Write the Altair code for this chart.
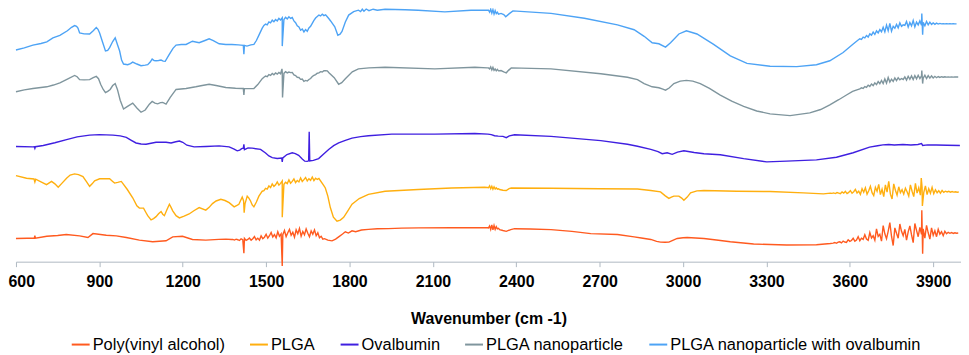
import altair as alt
import pandas as pd

SERIES = ["Poly(vinyl alcohol)", "PLGA", "Ovalbumin", "PLGA nanoparticle",
          "PLGA nanoparticle with ovalbumin"]
COLORS = ["#FF5A1F", "#FFAF0F", "#3F1FE0", "#7F959D", "#4DA3F5"]
TICKS = [600, 900, 1200, 1500, 1800, 2100, 2400, 2700, 3000, 3300, 3600, 3900]
STEP = 6
STEP_SMALL = 4

# ---------------- Poly(vinyl alcohol) ----------------
PVA_WN = [600, 640, 666, 668, 670, 711, 750, 781, 829, 859, 877, 925, 961, 997, 1044, 1092,
          1140, 1164, 1199, 1235, 1283, 1330, 1355, 1375,
          1722, 1737, 1750, 1761, 1775, 1785, 1796, 1809, 1822, 1843, 1868, 1900, 1940,
          1988, 2050, 2167, 2286, 2296,
          2340, 2352, 2364, 2380, 2394, 2450, 2525, 2600, 2668, 2764, 2824, 2850, 2884,
          2905, 2919, 2935, 2949, 2965, 2979, 3000, 3015, 3075, 3120, 3170, 3254, 3373,
          3480, 3530]
PVA_VAL = [23.7, 23.9, 24.0, 26.5, 24.0, 26.0, 26.8, 27.7, 26.3, 24.7, 28.7, 27.0, 26.3, 24.7, 22.0,
           20.3, 21.3, 25.3, 26.0, 22.7, 22.0, 22.8, 23.0, 22.6,
           22.0, 21.3, 23.0, 25.3, 28.2, 30.5, 29.2, 31.5, 30.6, 32.4, 33.0, 33.6, 33.8,
           34.3, 34.5, 34.7, 34.7, 34.6,
           32.7, 31.8, 31.0, 32.8, 33.7, 33.4, 32.7, 31.0, 28.7, 27.7, 25.3, 24.2, 22.7,
           20.8, 20.0, 19.8, 20.0, 22.0, 23.7, 24.5, 24.7, 23.7, 22.2, 20.3, 18.0, 17.0,
           17.3, 18.5]
PVA_NOISE1_START = 1380
PVA_NOISE1 = [22.8, 22.1, 23.0, 22.4, 21.6, 23.3, 22.5, 23.9, 21.8, 22.7,
              24.2, 22.0, 23.4, 25.6, 22.3, 24.0, 21.9, 26.3, 23.5, 25.0,
              28.0, 24.0, 26.5, 29.8, 25.2, 27.6, 24.4, 30.6, 26.0, 28.4,
              27.5, 31.8, 25.6, 29.5, 33.0, 27.0, 30.0, 25.0, 32.5, 28.5,
              34.0, 26.0, 30.8, 27.5, 33.5, 29.0, 25.5, 31.5, 28.0, 32.5,
              26.5, 29.5, 24.5, 26.0, 23.0, 23.5]
PVA_NOISE2_START = 2300
PVA_NOISE2 = [34.5, 36.5, 33.0, 37.5, 32.5, 37.0, 33.0, 35.8, 33.5, 34.0]
PVA_NOISE3_START = 3540
PVA_NOISE3 = [19.0, 19.6, 18.8, 19.9, 20.3, 19.2, 21.0, 20.1, 19.7, 22.4,
              20.8, 21.6, 23.9, 20.9, 22.2, 25.6, 21.4, 24.0, 22.8, 27.5,
              23.1, 21.9, 29.8, 24.2, 26.5, 22.0, 33.5, 25.8, 28.0, 21.0,
              36.8, 28.5, 23.5, 31.0, 40.0, 26.0, 16.5, 34.5, 29.0, 24.0,
              38.5, 31.0, 26.5, 33.0, 22.0, 30.5, 36.5, 27.5, 19.5, 39.0,
              32.0, 25.5, 35.0, 28.0, 33.5, 24.0, 37.0, 29.5, 23.0, 34.5,
              27.0, 31.5, 25.5, 33.0, 28.0, 30.5, 26.5, 31.0, 28.5, 30.0,
              29.0, 29.8, 28.9, 29.5, 29.1, 29.3]
PVA_SPIKE_WN = [1420, 1558, 3859, 3862]
PVA_SPIKE_VAL = [8.7, -4.5, 52.5, 8.0]

# ---------------- PLGA ----------------
PLGA_WN = [600, 638, 665, 668, 671, 690, 710, 728, 740, 752, 765, 782, 795, 811, 825, 841,
           853, 865, 874, 883, 901, 937, 948, 955, 966, 979, 1000, 1020, 1035, 1044, 1059,
           1068, 1074, 1086, 1095, 1104, 1113, 1122, 1128, 1134, 1143, 1152, 1158, 1164,
           1176, 1188, 1205, 1223, 1240, 1259, 1283, 1295, 1307, 1320, 1337, 1352, 1367,
           1385, 1395, 1402, 1409, 1414, 1419, 1421, 1424, 1432, 1438, 1444, 1450, 1456,
           1465, 1474, 1486,
           1707, 1713, 1722, 1731, 1742, 1755, 1767, 1779, 1794, 1809, 1835, 1868, 1928,
           2047, 2167, 2286, 2296,
           2340, 2352, 2364, 2374, 2382, 2525, 2700, 2836, 2884, 2919, 2935, 2949, 2958,
           2967, 2985, 2995, 3003, 3015, 3027, 3050, 3075, 3194, 3313, 3433, 3505, 3530]
PLGA_VAL = [88.0, 85.3, 84.5, 81.5, 84.3, 81.5, 78.7, 82.0, 79.5, 76.0, 80.0, 85.3, 88.5,
            89.7, 89.0, 87.0, 82.0, 77.0, 79.5, 82.7, 84.7, 84.7, 82.0, 80.3, 81.0, 82.0,
            74.0, 65.3, 57.0, 54.7, 54.7, 50.0, 47.0, 42.7, 44.0, 46.0, 49.0, 51.3, 48.5,
            47.0, 53.0, 58.7, 55.5, 52.0, 47.0, 44.7, 46.5, 48.7, 52.0, 55.3, 52.7, 55.5,
            59.3, 62.0, 63.7, 62.5, 60.3, 56.0, 57.5, 58.7, 63.0, 66.0, 62.0, 50.0, 59.0,
            67.0, 65.0, 62.0, 58.0, 56.0, 61.0, 67.0, 72.0,
            78.0, 75.3, 67.0, 55.3, 45.5, 41.3, 42.5, 45.3, 52.0, 58.7, 64.5, 68.7, 72.0,
            73.7, 75.3, 76.0, 75.8,
            73.7, 73.0, 72.7, 74.6, 75.3, 75.0, 74.5, 74.3, 72.7, 71.3, 67.5, 64.7, 66.0,
            67.0, 67.0, 65.0, 62.7, 66.0, 70.3, 72.3, 72.7, 72.0, 71.7, 70.3, 69.3, 70.0]
PLGA_NOISE1_START = 1492
PLGA_NOISE1 = [72.5, 75.0, 74.2, 77.5, 75.8, 79.5, 77.0, 78.6, 81.5, 78.2, 80.0,
               82.5, 79.0, 81.2, 79.8, 83.5, 80.2, 82.0, 84.5, 80.8, 83.0, 81.5,
               85.5, 82.0, 83.8, 86.0, 82.5, 84.8, 83.2, 86.5, 82.8, 85.2, 84.0, 85.0]
PLGA_NOISE2_START = 2300
PLGA_NOISE2 = [75.5, 77.5, 74.5, 77.0, 74.0, 76.5, 74.2, 75.5, 74.0, 74.5]
PLGA_NOISE3_START = 3536
PLGA_NOISE3 = [69.8, 70.3, 69.6, 70.6, 70.1, 69.4, 71.2, 70.0, 71.8, 69.6,
               70.8, 72.6, 69.9, 71.5, 73.8, 70.2, 72.0, 68.8, 74.5, 71.0,
               75.5, 69.0, 72.5, 77.0, 70.5, 67.5, 76.0, 72.0, 79.0, 68.5,
               74.0, 66.5, 78.5, 71.0, 82.0, 69.0, 64.0, 79.5, 73.0, 68.0,
               76.5, 70.5, 73.5, 69.0, 75.0, 71.5, 67.0, 78.5, 72.0, 66.5,
               80.0, 70.0, 75.5, 68.0, 76.0, 70.5, 77.5, 68.5, 74.5, 70.0,
               76.0, 69.5, 73.5, 70.5, 72.5, 70.0, 72.8, 70.8, 72.0, 71.2,
               71.9, 71.0, 71.6, 71.1, 71.4, 71.0, 71.2]
PLGA_SPIKE_WN = [1558, 3857, 3861]
PLGA_SPIKE_VAL = [45.3, 85.5, 57.0]

# ---------------- Ovalbumin ----------------
OVA_WN = [600, 661, 666, 668, 670, 698, 740, 782, 820, 865, 900, 949, 975, 997, 1015, 1032,
          1050, 1068, 1086, 1104, 1140, 1158, 1175, 1188, 1200, 1215, 1241, 1283, 1331,
          1367, 1385, 1396, 1405, 1412, 1418, 1420, 1422, 1435, 1450, 1480, 1498, 1510,
          1522, 1540, 1556, 1558, 1560, 1575, 1594, 1605, 1617, 1630, 1639, 1648, 1653,
          1655, 1657, 1670, 1689, 1707, 1725, 1743, 1761, 1785, 1809, 1840, 1868, 1952,
          2107, 2251, 2298, 2310, 2322, 2335, 2352, 2364, 2375, 2394, 2525, 2704, 2800,
          2836, 2884, 2910, 2925, 2943, 2961, 2980, 3003, 3040, 3075, 3134, 3218, 3301,
          3373, 3480, 3552, 3612, 3671, 3700, 3719, 3740, 3760, 3791, 3820, 3845, 3858,
          3862, 3880, 3911, 3950, 3996]
OVA_VAL = [117.7, 117.3, 117.5, 115.8, 117.5, 118.7, 121.5, 124.7, 127.5, 129.3, 129.8,
           129.3, 128.5, 127.0, 124.0, 121.3, 120.2, 120.0, 121.0, 122.0, 122.0, 121.3,
           122.5, 123.3, 122.0, 119.0, 117.3, 117.7, 118.3, 117.3, 115.0, 113.3, 114.0,
           115.5, 116.0, 120.0, 114.5, 116.3, 116.0, 114.7, 111.0, 108.0, 106.3, 105.5,
           106.0, 102.0, 106.0, 109.5, 111.3, 110.5, 108.7, 105.0, 102.7, 102.5, 103.0,
           132.7, 103.0, 103.5, 105.3, 110.0, 114.7, 118.5, 121.3, 124.0, 126.3, 127.8,
           128.7, 130.3, 130.3, 131.0, 130.3, 129.8, 128.7, 128.3, 128.0, 126.7, 128.5,
           129.7, 128.0, 123.7, 120.0, 118.0, 114.7, 112.5, 110.3, 111.3, 109.7, 112.0,
           113.3, 111.5, 110.3, 109.3, 105.3, 102.0, 102.7, 104.0, 106.7, 111.3, 117.0,
           118.5, 119.3, 119.8, 119.2, 119.7, 119.3, 119.8, 120.8, 118.8, 119.4, 119.3,
           119.0, 118.7]

# ---------------- PLGA nanoparticle ----------------
NP_WN = [600, 630, 661, 711, 735, 758, 785, 811, 820, 829, 845, 865, 878, 889, 897, 905, 914,
         922, 930, 939, 948, 957, 965, 975, 987, 1000, 1020, 1035, 1050, 1065, 1080, 1090,
         1100, 1110, 1120, 1128, 1140, 1155, 1176, 1212, 1247, 1270, 1295, 1320, 1355,
         1390, 1414, 1418, 1420, 1422, 1440, 1456, 1470, 1486,
         1745, 1761, 1772, 1785, 1810, 1832, 1870, 1928, 2107, 2251, 2296,
         2345, 2355, 2364, 2372, 2382, 2525, 2704, 2800, 2836, 2860, 2889, 2913, 2925, 2937,
         2950, 2967, 2990, 3012, 3035, 3062, 3095, 3134, 3175, 3218, 3265, 3313, 3385,
         3456, 3495, 3528, 3560, 3588, 3610]
NP_VAL = [173.7, 175.5, 177.0, 178.7, 180.5, 182.7, 186.5, 190.3, 189.0, 186.0, 185.8, 186.0,
          188.0, 189.3, 187.0, 181.0, 176.0, 172.7, 174.0, 176.0, 180.0, 182.0, 176.0, 165.0,
          156.0, 158.5, 162.0, 157.0, 152.7, 155.0, 161.0, 163.7, 162.0, 161.3, 162.5, 162.7,
          161.0, 168.0, 176.0, 177.0, 178.7, 180.0, 181.3, 180.0, 178.0, 177.2, 177.0, 177.0,
          170.3, 177.0, 176.8, 177.0, 181.0, 187.0,
          188.0, 181.3, 183.0, 187.0, 194.0, 197.0, 198.0, 198.7, 197.0, 198.7, 198.0,
          195.3, 194.0, 193.0, 195.5, 198.0, 197.0, 192.0, 188.5, 186.0, 182.0, 178.7, 177.7,
          176.5, 175.3, 177.5, 182.0, 184.5, 185.3, 184.5, 182.0, 177.0, 170.3, 164.0, 158.7,
          154.0, 151.0, 149.3, 152.0, 155.5, 160.3, 165.5, 170.3, 174.0]
NP_NOISE1_START = 1492
NP_NOISE1 = [188.5, 189.6, 189.0, 191.2, 190.4, 192.3, 191.0, 192.8, 191.6, 193.4, 192.0,
             193.8, 192.4, 194.2, 192.9, 193.8, 193.2, 193.4, 190.8, 190.2, 188.4, 188.2,
             186.3, 186.6, 184.3, 185.2, 184.6, 186.2, 187.2, 189.2, 190.3, 191.2, 192.6,
             192.9, 194.2, 193.8, 195.1, 195.2, 195.0, 193.0]
NP_NOISE2_START = 2300
NP_NOISE2 = [198.0, 197.0, 199.0, 196.0, 198.5, 195.5, 197.0, 195.0, 196.5, 195.0]
NP_NOISE3_START = 3636
NP_NOISE3 = [176.5, 177.6, 177.0, 178.9, 178.2, 180.4, 179.1, 181.6, 180.0, 182.8,
             180.9, 184.0, 181.8, 185.2, 182.0, 186.8, 182.5, 188.2, 183.5, 186.5,
             184.2, 187.8, 185.0, 188.0, 185.8, 187.2, 186.2, 188.8, 185.6, 189.5,
             186.4, 189.8, 186.2, 190.2, 186.8, 190.5, 187.2, 190.0, 187.6, 190.6,
             187.2, 190.2, 187.6, 189.8, 187.8, 189.4, 188.0, 189.2, 188.3, 189.0,
             188.5, 188.9, 188.6, 188.8, 188.6, 188.7, 188.6, 188.7, 188.7, 188.7]
NP_SPIKE_WN = [1557, 1559, 3859, 3862]
NP_SPIKE_VAL = [197.0, 167.7, 195.3, 182.0]

# ---------------- PLGA nanoparticle with ovalbumin ----------------
NPO_WN = [600, 630, 661, 690, 711, 733, 758, 785, 800, 811, 818, 823, 829, 845, 865, 878,
          889, 895, 901, 912, 922, 930, 937, 948, 957, 965, 973, 980, 987, 1002, 1012, 1020,
          1035, 1050, 1065, 1074, 1083, 1090, 1097, 1104, 1113, 1122, 1130, 1137, 1150,
          1165, 1176, 1195, 1212, 1235, 1259, 1280, 1295, 1310, 1331, 1355, 1377, 1400,
          1409, 1418, 1420, 1422, 1431, 1445, 1456, 1465, 1475, 1486,
          1747, 1758, 1766, 1773, 1785, 1797, 1815, 1832, 1840, 1846, 1852, 1860, 1870,
          1885, 1900, 1928, 2000, 2047, 2143, 2237, 2296,
          2345, 2355, 2362, 2375, 2388, 2525, 2645, 2764, 2824, 2860, 2889, 2913, 2937,
          2955, 2985, 3012, 3050, 3110, 3170, 3230, 3313, 3409, 3480, 3528, 3576, 3610]
NPO_VAL = [216.3, 218.5, 221.3, 223.0, 224.7, 228.7, 231.3, 236.0, 239.5, 241.3, 240.5,
           238.7, 233.7, 232.8, 232.7, 236.0, 239.3, 237.5, 233.7, 224.0, 215.3, 216.0,
           218.7, 225.0, 228.7, 222.0, 215.3, 206.0, 202.0, 201.3, 202.5, 204.0, 202.0,
           200.3, 200.8, 201.3, 204.0, 207.0, 205.5, 205.3, 205.6, 206.0, 205.0, 204.7,
           211.0, 218.0, 221.3, 222.0, 222.0, 225.3, 223.7, 226.0, 227.7, 226.0, 222.7,
           222.0, 222.0, 221.5, 221.3, 221.0, 212.0, 221.0, 220.3, 221.5, 222.0, 226.0,
           232.0, 238.7,
           240.0, 231.3, 232.5, 235.3, 245.0, 252.0, 255.5, 257.0, 255.5, 258.0, 256.0,
           258.2, 256.5, 258.0, 257.0, 258.0, 257.5, 257.0, 255.3, 257.0, 257.0,
           253.7, 252.5, 250.3, 253.5, 256.3, 253.7, 248.7, 242.0, 237.0, 230.3, 223.7,
           222.7, 219.3, 223.7, 232.7, 236.0, 232.7, 222.0, 210.3, 202.7, 199.7, 199.3,
           201.3, 205.3, 213.7, 222.0]
NPO_NOISE1_START = 1492
NPO_NOISE1 = [241.5, 242.8, 242.0, 245.0, 244.0, 246.8, 245.2, 247.5, 246.0, 248.6, 247.0,
              249.2, 247.5, 249.8, 248.0, 250.2, 248.6, 249.5, 246.0, 244.2, 241.0, 239.8,
              236.5, 237.8, 234.8, 237.2, 235.5, 238.8, 240.5, 243.5, 246.5, 249.0, 250.5,
              252.0, 251.2, 253.0, 251.5, 252.2, 250.3, 248.2, 246.0]
NPO_NOISE2_START = 2300
NPO_NOISE2 = [257.0, 255.0, 258.0, 254.0, 257.5, 253.0, 256.5, 253.5, 255.0, 253.0]
NPO_NOISE3_START = 3630
NPO_NOISE3 = [226.5, 227.8, 227.2, 229.5, 228.8, 231.2, 229.6, 232.8, 231.5, 234.6,
              232.2, 236.0, 233.8, 237.2, 235.0, 239.5, 234.8, 241.8, 236.0, 243.5,
              235.5, 240.5, 238.5, 242.5, 239.0, 244.0, 240.5, 242.0, 241.5, 245.5,
              239.8, 244.5, 241.0, 246.5, 240.0, 244.8, 242.0, 246.0, 241.5, 244.5,
              241.0, 245.5, 242.0, 244.8, 242.5, 244.0, 242.6, 243.8, 242.8, 243.5,
              243.0, 243.3, 243.0, 243.2, 243.0, 243.1, 243.0, 243.1, 243.0, 243.0]
NPO_SPIKE_WN = [1558, 3859, 3862]
NPO_SPIKE_VAL = [220.3, 253.7, 232.0]

rows = []


def add(series, wns, vals):
    for w, v in zip(wns, vals):
        rows.append({"wn": w, "val": v, "series": series})


def add_run(series, start, step, vals):
    add(series, [start + i * step for i in range(len(vals))], vals)


s_pva, s_plga, s_ova, s_np, s_npo = SERIES
add(s_pva, PVA_WN, PVA_VAL)
add_run(s_pva, PVA_NOISE1_START, STEP, PVA_NOISE1)
add_run(s_pva, PVA_NOISE2_START, STEP_SMALL, PVA_NOISE2)
add_run(s_pva, PVA_NOISE3_START, STEP, PVA_NOISE3)
add(s_pva, PVA_SPIKE_WN, PVA_SPIKE_VAL)

add(s_plga, PLGA_WN, PLGA_VAL)
add_run(s_plga, PLGA_NOISE1_START, STEP, PLGA_NOISE1)
add_run(s_plga, PLGA_NOISE2_START, STEP_SMALL, PLGA_NOISE2)
add_run(s_plga, PLGA_NOISE3_START, STEP, PLGA_NOISE3)
add(s_plga, PLGA_SPIKE_WN, PLGA_SPIKE_VAL)

add(s_ova, OVA_WN, OVA_VAL)

add(s_np, NP_WN, NP_VAL)
add_run(s_np, NP_NOISE1_START, STEP, NP_NOISE1)
add_run(s_np, NP_NOISE2_START, STEP_SMALL, NP_NOISE2)
add_run(s_np, NP_NOISE3_START, STEP, NP_NOISE3)
add(s_np, NP_SPIKE_WN, NP_SPIKE_VAL)

add(s_npo, NPO_WN, NPO_VAL)
add_run(s_npo, NPO_NOISE1_START, STEP, NPO_NOISE1)
add_run(s_npo, NPO_NOISE2_START, STEP_SMALL, NPO_NOISE2)
add_run(s_npo, NPO_NOISE3_START, STEP, NPO_NOISE3)
add(s_npo, NPO_SPIKE_WN, NPO_SPIKE_VAL)

df = pd.DataFrame(rows).sort_values(["series", "wn"], kind="stable").reset_index(drop=True)

FONT = "Liberation Sans, Arial, sans-serif"
AXIS_GREY = "#AEB8C2"

chart = alt.Chart(df).mark_line(strokeWidth=1.4, clip=False).encode(
    x=alt.X("wn:Q",
            scale=alt.Scale(domain=[600, 4000], nice=False, zero=False),
            axis=alt.Axis(values=TICKS, format="d", title="Wavenumber (cm -1)", grid=False,
                          labelFont=FONT, labelFontSize=16, labelFontWeight="bold",
                          labelColor="#000000", titleFont=FONT, titleFontSize=16,
                          titleFontWeight="bold", titleColor="#000000",
                          domainColor=AXIS_GREY, tickColor=AXIS_GREY, tickSize=5,
                          labelPadding=7, titlePadding=21, labelFlush=True,
                          labelFlushOffset=8)),
    y=alt.Y("val:Q", scale=alt.Scale(domain=[0, 258.5], nice=False, zero=False), axis=None),
    color=alt.Color("series:N",
                    scale=alt.Scale(domain=SERIES, range=COLORS),
                    legend=alt.Legend(orient="none", legendX=55, legendY=327,
                                      direction="horizontal", columns=5, title=None,
                                      symbolType="stroke", symbolSize=324,
                                      symbolStrokeWidth=2, labelFont=FONT,
                                      labelFontSize=16.5, labelColor="#000000",
                                      labelOffset=2, columnPadding=21, padding=0,
                                      labelLimit=400)),
    order=alt.Order("wn:Q"),
).properties(
    width=949, height=254,
    padding={"left": 8, "right": 0, "top": 0, "bottom": 92},
    autosize=alt.AutoSizeParams(type="none"),
    background="white",
).configure_view(stroke=None)

chart.save("out.html", embed_options={"renderer": "svg", "actions": False})
